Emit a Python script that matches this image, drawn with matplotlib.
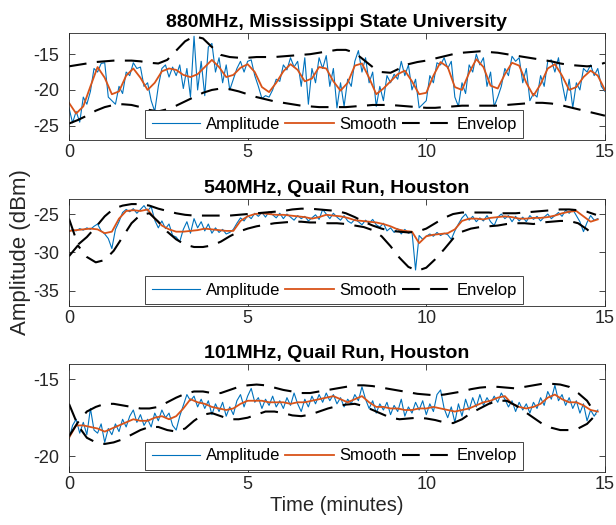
import numpy as np
import matplotlib
matplotlib.use("Agg")
import matplotlib.pyplot as plt

plt.rcParams['font.family'] = ['Liberation Sans', 'DejaVu Sans']
plt.rcParams['axes.unicode_minus'] = False

# ---------------- 880MHz, Mississippi State University ----------------
amp1 = [-22.5, -24.6, -23.0, -24.5, -21.0, -22.0, -20.2, -17.0, -17.5, -16.3,
        -16.2, -21.0, -21.5, -22.0, -19.5, -20.5, -17.5, -18.0, -16.2, -17.0,
        -16.8, -19.5, -19.0, -21.5, -23.0, -19.5, -17.0, -16.5, -18.2, -16.8,
        -18.0, -16.5, -19.8, -17.0, -21.0, -12.5, -20.0, -16.0, -20.8, -14.0,
        -13.5, -17.5, -15.5, -19.0, -16.5, -20.0, -18.5, -17.0, -16.0, -17.5,
        -16.0, -15.8, -18.0, -19.5, -21.2, -20.8, -21.0, -20.0, -18.5, -18.8,
        -16.5, -17.2, -15.5, -16.8, -16.0, -19.5, -15.5, -22.0, -17.0, -19.0,
        -15.5, -17.0, -15.2, -19.5, -17.0, -22.5, -19.0, -22.3, -18.5, -19.5,
        -16.0, -14.5, -17.5, -15.5, -19.0, -17.5, -22.3, -19.5, -21.5, -18.0,
        -19.0, -17.8, -18.5, -16.0, -18.0, -16.5, -20.0, -18.5, -22.5, -22.0,
        -21.5, -18.0, -19.0, -16.2, -16.5, -15.5, -17.0, -16.0, -21.0, -22.3,
        -19.0, -20.5, -16.5, -17.5, -15.0, -16.5, -15.5, -19.5, -17.5, -22.3,
        -21.0, -19.5, -17.0, -18.0, -15.3, -16.0, -15.5, -19.0, -17.0, -21.5,
        -20.5, -21.0, -18.0, -19.5, -16.0, -15.8, -17.5, -15.5, -19.0, -21.5,
        -18.5, -22.5, -19.0, -20.0, -17.0, -17.5, -16.5, -18.0, -17.0, -19.5,
        -20.2]
smooth1 = [-21.8, -23.3, -22.3, -19.5, -16.8, -18.3, -20.6, -20.2, -18.0, -17.0,
           -18.3, -20.0, -19.0, -17.4, -17.0, -17.2, -17.9, -18.2, -17.8, -16.8,
           -15.8, -16.8, -18.2, -17.9, -16.9, -16.4, -17.5, -19.6, -20.3, -19.0,
           -17.4, -16.4, -17.2, -18.8, -18.4, -16.8, -17.0, -18.8, -20.1, -19.0,
           -16.6, -16.3, -18.3, -20.6, -19.8, -18.8, -17.8, -17.3, -18.8, -20.6,
           -20.4, -18.0, -16.1, -16.8, -19.6, -20.0, -17.6, -15.7, -16.8, -19.4,
           -19.8, -17.8, -16.2, -16.6, -19.0, -20.8, -19.2, -17.0, -16.4, -18.0,
           -20.0, -19.6, -18.2, -17.3, -18.0, -20.0]
upper1 = [-16.7, -16.5, -16.3, -16.1, -16.0, -15.9, -15.9, -15.9, -16.0, -16.2,
          -16.3, -15.8, -14.5, -13.2, -12.5, -12.8, -14.0, -15.1, -15.4, -15.5,
          -15.5, -15.4, -15.4, -15.4, -15.3, -15.2, -15.1, -15.0, -14.8, -14.6,
          -14.4, -14.4, -14.8, -15.8, -16.8, -17.5, -17.6, -17.0, -16.4, -16.1,
          -15.9, -15.6, -15.3, -15.0, -14.8, -14.7, -14.6, -14.7, -14.8, -15.0,
          -15.2, -15.4, -15.6, -15.8, -16.0, -16.3, -16.5, -16.6, -16.7, -16.6,
          -16.2]
lower1 = [-24.7, -24.2, -23.6, -22.9, -22.4, -22.1, -22.0, -22.1, -22.4, -22.8,
          -23.0, -22.7, -22.2, -21.6, -21.0, -20.4, -20.0, -19.8, -19.9, -20.2,
          -20.6, -21.0, -21.3, -21.6, -21.8, -22.0, -22.2, -22.3, -22.4, -22.4,
          -22.4, -22.4, -22.3, -22.2, -22.1, -22.1, -22.1, -22.2, -22.3, -22.4,
          -22.5, -22.5, -22.4, -22.3, -22.2, -22.2, -22.2, -22.2, -22.2, -22.1,
          -22.0, -21.9, -21.8, -21.8, -21.9, -22.1, -22.4, -22.7, -23.0, -23.3,
          -23.6]

# ---------------- 540MHz, Quail Run, Houston ----------------
amp2 = [-27.3, -27.0, -27.2, -26.9, -27.1, -26.8, -27.0, -26.6, -26.3, -27.2,
        -27.6, -28.2, -29.5, -27.0, -26.0, -24.8, -24.4, -24.7, -24.3, -24.9,
        -24.4, -23.9, -24.6, -24.0, -25.8, -26.8, -25.9, -26.9, -26.3, -27.8,
        -28.0, -28.6, -27.0, -26.0, -27.5, -25.6, -26.8, -26.0, -27.2, -26.3,
        -27.5, -26.8, -27.4, -27.0, -27.6, -27.4, -27.0, -26.2, -25.5, -25.9,
        -25.2, -25.6, -24.9, -25.3, -24.8, -25.4, -24.7, -25.1, -25.5, -24.9,
        -25.6, -25.0, -25.4, -25.8, -25.2, -25.6, -25.3, -25.9, -25.5, -25.1,
        -25.7, -24.4, -25.0, -25.6, -24.9, -25.4, -25.8, -25.2, -25.9, -26.2,
        -25.7, -26.0, -26.4, -25.8, -26.2, -25.7, -26.4, -26.7, -26.2, -27.2,
        -26.8, -27.4, -26.9, -27.6, -27.0, -27.5, -27.3, -32.3, -27.8, -28.3,
        -27.9, -27.6, -27.9, -27.4, -27.8, -27.5, -27.7, -28.3, -27.2, -26.3,
        -25.5, -25.0, -25.8, -25.3, -26.0, -25.5, -25.9, -25.2, -26.0, -26.5,
        -25.4, -25.0, -25.6, -25.2, -26.0, -25.3, -25.9, -25.4, -26.0, -25.2,
        -25.7, -25.3, -25.9, -25.4, -25.0, -25.6, -25.2, -24.8, -25.3, -24.5,
        -24.9, -24.4, -25.2, -26.0, -27.3, -26.1, -25.2, -25.8, -25.6]
smooth2 = [-27.2, -27.1, -27.0, -26.9, -27.0, -27.5, -27.3, -25.6, -24.6, -24.5,
           -24.6, -24.4, -25.6, -26.5, -27.0, -27.3, -27.3, -27.2, -27.1, -26.9,
           -27.0, -27.1, -27.2, -27.2, -25.9, -25.3, -25.0, -24.9, -25.0, -25.1,
           -25.1, -25.2, -25.3, -25.4, -25.6, -25.4, -25.1, -25.2, -25.3, -25.5,
           -25.8, -25.9, -26.0, -26.1, -26.3, -26.6, -27.0, -27.2, -27.3, -28.8,
           -27.9, -27.7, -27.6, -27.5, -27.0, -25.9, -25.6, -25.6, -25.7, -25.5,
           -25.4, -25.3, -25.4, -25.6, -25.6, -25.5, -25.5, -25.4, -25.2, -24.9,
           -24.7, -24.6, -25.3, -26.0, -25.7]
upper2 = [-25.6, -29.0, -28.0, -26.7, -25.3, -24.3, -23.9, -23.7, -23.7, -23.9,
          -24.3, -24.6, -24.9, -25.1, -25.2, -25.2, -25.2, -25.2, -25.2, -25.1,
          -25.0, -24.9, -24.8, -24.7, -24.6, -24.4, -24.3, -24.3, -24.4, -24.5,
          -24.6, -24.9, -25.4, -26.0, -26.5, -26.9, -27.2, -27.3, -27.4, -27.3,
          -26.9, -26.2, -25.5, -25.0, -24.8, -24.8, -24.8, -24.8, -24.9, -24.9,
          -24.9, -24.8, -24.7, -24.6, -24.5, -24.4, -24.4, -24.5, -24.7, -25.1]
lower2 = [-30.5, -29.1, -30.6, -31.3, -31.0, -29.8, -28.0, -26.2, -25.1, -24.9,
          -26.0, -27.3, -28.3, -29.0, -29.3, -29.3, -29.1, -28.6, -27.9, -27.3,
          -26.9, -26.6, -26.4, -26.2, -26.1, -26.0, -26.0, -26.1, -26.1, -26.2,
          -26.2, -26.3, -26.5, -26.7, -27.1, -27.9, -29.2, -30.7, -31.9, -32.4,
          -32.0, -30.9, -29.6, -28.2, -27.3, -26.9, -26.7, -26.6, -26.5, -26.3,
          -26.2, -26.2, -26.3, -26.1, -26.0, -25.9, -25.9, -26.2, -27.0, -28.0]

# ---------------- 101MHz, Quail Run, Houston ----------------
amp3 = [-18.9, -18.0, -17.6, -18.5, -17.8, -18.6, -16.9, -18.3, -18.5, -17.9,
        -19.1, -18.2, -18.6, -17.9, -18.4, -17.6, -18.1, -17.4, -17.0, -17.8,
        -17.3, -18.0, -17.6, -18.1, -17.2, -17.7, -17.0, -17.5, -17.2, -18.0,
        -18.3, -17.4, -16.7, -16.0, -16.4, -16.1, -16.8, -16.3, -16.9, -16.4,
        -17.3, -16.6, -17.1, -16.5, -17.4, -16.8, -17.3, -16.4, -16.0, -16.8,
        -16.1, -15.6, -16.5, -16.2, -16.9, -16.3, -16.7, -16.1, -16.8, -16.4,
        -16.9, -16.2, -16.7, -15.9, -16.6, -17.1, -16.3, -16.8, -16.1, -16.6,
        -16.0, -16.5, -15.9, -16.4, -16.0, -16.6, -16.2, -16.8, -16.3, -16.6,
        -16.0, -16.4, -15.5, -16.3, -16.9, -16.4, -17.2, -16.6, -17.0, -16.5,
        -17.3, -16.7, -17.1, -16.3, -17.4, -16.8, -17.2, -16.5, -17.0, -16.4,
        -17.3, -16.6, -17.1, -16.0, -15.7, -16.9, -17.5, -16.8, -17.8, -16.6,
        -17.4, -16.3, -17.0, -16.2, -16.8, -16.0, -16.7, -16.2, -16.6, -16.1,
        -16.5, -15.9, -16.3, -16.8, -16.4, -17.1, -16.5, -17.0, -16.6, -17.2,
        -16.5, -16.9, -16.2, -16.7, -15.8, -16.3, -15.4, -16.4, -16.0, -16.7,
        -16.2, -16.9, -16.4, -17.2, -16.6, -17.7, -17.0, -17.4, -17.0]
smooth3 = [-18.8, -18.0, -18.0, -18.1, -18.2, -18.4, -18.2, -18.0, -17.8, -17.6,
           -17.7, -17.7, -17.5, -17.4, -17.6, -17.4, -16.9, -16.3, -16.5, -16.6,
           -16.8, -16.9, -17.0, -16.9, -16.6, -16.4, -16.4, -16.4, -16.5, -16.5,
           -16.5, -16.6, -16.5, -16.5, -16.4, -16.3, -16.2, -16.1, -16.3, -16.5,
           -16.3, -16.1, -16.5, -16.8, -16.8, -16.9, -16.9, -17.0, -17.0, -16.9,
           -16.9, -16.8, -16.9, -17.0, -17.1, -17.0, -16.9, -16.7, -16.5, -16.4,
           -16.2, -16.1, -16.6, -16.8, -16.9, -16.8, -16.6, -16.2, -16.0, -16.3,
           -16.5, -16.5, -16.7, -17.0, -17.1]
upper3 = [-18.7, -17.8, -17.1, -16.8, -16.6, -16.6, -16.7, -16.8, -16.9, -16.9,
          -16.8, -16.5, -16.2, -15.95, -15.8, -15.8, -15.9, -15.9, -15.7, -15.5,
          -15.4, -15.35, -15.4, -15.55, -15.7, -15.8, -15.9, -15.9, -15.8, -15.7,
          -15.6, -15.5, -15.4, -15.4, -15.45, -15.55, -15.65, -15.75, -15.85, -15.95,
          -16.0, -16.05, -16.0, -15.9, -15.8, -15.65, -15.55, -15.5, -15.5, -15.55,
          -15.6, -15.5, -15.4, -15.3, -15.3, -15.35, -15.5, -15.9, -16.4, -17.3]
lower3 = [-16.6, -18.0, -18.8, -19.1, -19.2, -19.1, -18.9, -18.6, -18.3, -18.1,
          -18.1, -18.3, -18.4, -18.2, -17.7, -17.3, -17.2, -17.4, -17.6, -17.6,
          -17.5, -17.3, -17.1, -17.1, -17.2, -17.35, -17.4, -17.3, -17.1, -16.9,
          -16.75, -16.65, -16.6, -16.75, -17.0, -17.25, -17.5, -17.6, -17.55, -17.5,
          -17.55, -17.65, -17.8, -17.85, -17.6, -17.2, -16.9, -16.6, -16.4, -16.4,
          -16.7, -17.1, -17.5, -17.9, -18.15, -18.3, -18.3, -18.2, -17.9, -17.3]

titles = ['880MHz, Mississippi State University',
          '540MHz, Quail Run, Houston',
          '101MHz, Quail Run, Houston']
ylims = [(-27, -12), (-37, -23), (-21, -14)]
yticks = [[-25, -20, -15], [-35, -30, -25], [-20, -15]]
panels = [(amp1, smooth1, upper1, lower1),
          (amp2, smooth2, upper2, lower2),
          (amp3, smooth3, upper3, lower3)]
# axes rectangles [left, bottom, width, height] in figure fraction
rects = [[0.112, 0.7333, 0.870, 0.2044],
         [0.112, 0.4171, 0.870, 0.2044],
         [0.112, 0.1015, 0.870, 0.2057]]

blue = '#0072BD'
orange = '#D95319'
edge = '#262626'

fig = plt.figure(figsize=(6.16, 5.25), dpi=100)
for i, (amp, sm, up, lo) in enumerate(panels):
    ax = fig.add_axes(rects[i])
    t_amp = np.arange(len(amp)) * 0.1
    t_sm = np.arange(len(sm)) * 0.2
    t_env = np.arange(len(up)) * 0.25
    ax.plot(t_amp, amp, color=blue, lw=0.8, label='Amplitude')
    ax.plot(t_sm, sm, color=orange, lw=1.3, label='Smooth')
    ax.plot(t_env, up, color='k', lw=1.5, dashes=(8.5, 5), label='Envelop')
    ax.plot(t_env, lo, color='k', lw=1.5, dashes=(8.5, 5))
    ax.set_xlim(0, 15)
    ax.set_ylim(*ylims[i])
    ax.set_xticks([0, 5, 10, 15])
    ax.set_yticks(yticks[i])
    ax.tick_params(direction='in', top=True, right=True, length=4, width=0.6,
                   labelsize=13, colors=edge)
    ax.tick_params(axis='x', pad=3)
    ax.tick_params(axis='y', pad=7)
    for s in ax.spines.values():
        s.set_linewidth(0.6)
        s.set_color(edge)
    ax.set_title(titles[i], fontsize=14, fontweight='bold', pad=4)
    leg = ax.legend(loc='lower center', bbox_to_anchor=(0.495, 0.015), ncol=3,
                    fontsize=12, frameon=True, fancybox=False, framealpha=1,
                    edgecolor=edge, handlelength=2.9, columnspacing=0.3,
                    handletextpad=0.35, borderpad=0.4, borderaxespad=0)
    leg.get_frame().set_linewidth(0.6)
    if i == 2:
        ax.set_xlabel('Time (minutes)', fontsize=14.5, color=edge, labelpad=2)

# shared y label for all three panels
fig.text(0.034, 0.52, 'Amplitude (dBm)', rotation=90, ha='center',
         va='center', fontsize=16, color=edge)

fig.savefig('out.png', dpi=100)
